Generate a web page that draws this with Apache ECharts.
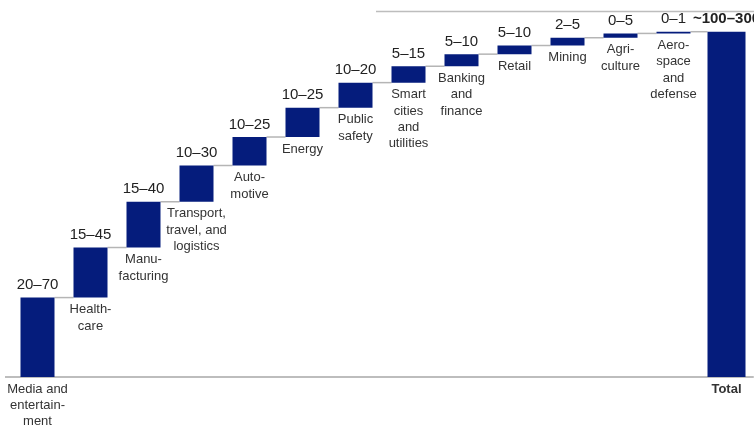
<!DOCTYPE html>
<html>
<head>
<meta charset="utf-8">
<script src="https://cdn.jsdelivr.net/npm/echarts@6/dist/echarts.min.js"></script>
<style>
  html, body { margin: 0; padding: 0; background: #fff; }
  #main { width: 754px; height: 426px; }
</style>
</head>
<body>
<div id="main"></div>
<script>
var categories = [
  'Media and\nentertain-\nment', 'Health-\ncare', 'Manu-\nfacturing',
  'Transport,\ntravel, and\nlogistics', 'Auto-\nmotive', 'Energy',
  'Public\nsafety', 'Smart\ncities\nand\nutilities', 'Banking\nand\nfinance',
  'Retail', 'Mining', 'Agri-\nculture', 'Aero-\nspace\nand\ndefense', 'Total'
];
// step heights (total scaled to 200)
var values = [46, 29, 26.5, 21, 16.5, 17, 14.5, 9.5, 7, 5, 4.5, 2.5, 1];
var rangeLabels = ['20–70', '15–45', '15–40', '10–30', '10–25', '10–25',
  '10–20', '5–15', '5–10', '5–10', '2–5', '0–5', '0–1'];
var totalLabel = '~100–300';

var navy = '#051c7c';
var font = 'Arial, "Liberation Sans", sans-serif';

// cumulative levels
var base = [];
var levels = [];
var run = 0;
values.forEach(function (v) {
  base.push(run);
  run += v;
  levels.push(run);
});
var total = run;

var baseData = base.map(function (b) { return { value: b }; });
baseData.push({ value: 0, label: { fontWeight: 'bold' } });

var stepData = values.slice();
stepData.push('-');

var totalData = categories.map(function (c, i) {
  return i === categories.length - 1 ? total : '-';
});

var connectorData = levels.map(function (l, i) { return [i, l]; });

var chart = echarts.init(document.getElementById('main'));
chart.setOption({
  animation: false,
  textStyle: { fontFamily: font },
  grid: { left: 11, right: 1, top: 31.7, bottom: 49 },
  xAxis: [{
    type: 'category',
    data: categories,
    axisLine: { lineStyle: { color: '#bdbdbd', width: 2 } },
    axisTick: { show: false },
    axisLabel: { show: false }
  }, {
    type: 'category',
    data: categories,
    show: false
  }],
  yAxis: { type: 'value', min: 0, max: 200, show: false },
  graphic: [{
    type: 'line',
    shape: { x1: 376, y1: 11.5, x2: 754, y2: 11.5 },
    style: { stroke: '#bdbdbd', lineWidth: 1.5 }
  }, {
    type: 'line',
    shape: { x1: 5, y1: 377, x2: 12, y2: 377 },
    style: { stroke: '#bdbdbd', lineWidth: 2 }
  }],
  series: [{
    name: 'base',
    type: 'bar',
    stack: 'w',
    barWidth: 34,
    itemStyle: { color: 'transparent' },
    label: {
      show: true,
      position: 'insideTop',
      distance: 4,
      color: '#333',
      fontSize: 13,
      lineHeight: 16.3,
      fontFamily: font,
      formatter: function (p) { return categories[p.dataIndex]; }
    },
    data: baseData,
    z: 3
  }, {
    name: 'step',
    type: 'bar',
    stack: 'w',
    barWidth: 34,
    itemStyle: { color: navy },
    label: {
      show: true,
      position: 'top',
      distance: 5,
      color: '#222',
      fontSize: 15,
      fontFamily: font,
      formatter: function (p) { return rangeLabels[p.dataIndex]; }
    },
    data: stepData,
    z: 3
  }, {
    name: 'total',
    type: 'bar',
    xAxisIndex: 1,
    barWidth: 38,
    itemStyle: { color: navy },
    label: {
      show: true,
      position: 'top',
      distance: 5,
      color: '#222',
      fontSize: 15,
      fontWeight: 'bold',
      fontFamily: font,
      formatter: function () { return totalLabel; }
    },
    data: totalData,
    z: 3
  }, {
    name: 'connector',
    type: 'custom',
    z: 1,
    renderItem: function (params, api) {
      var i = api.value(0);
      var p1 = api.coord([i, api.value(1)]);
      var p2 = api.coord([i + 1, api.value(1)]);
      var nextHalf = (i + 1 === categories.length - 1) ? 19 : 17;
      return {
        type: 'line',
        shape: { x1: p1[0] + 17, y1: p1[1], x2: p2[0] - nextHalf, y2: p2[1] },
        style: { stroke: '#b5b5b5', lineWidth: 1.5 }
      };
    },
    data: connectorData
  }]
});
</script>
</body>
</html>
